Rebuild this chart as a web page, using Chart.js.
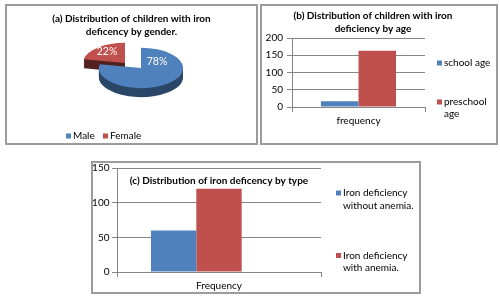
<!DOCTYPE html>
<html>
<head>
<meta charset="utf-8">
<script src="https://cdn.jsdelivr.net/npm/chart.js@4.4.1/dist/chart.umd.min.js"></script>
<style>
  body { margin: 0; width: 500px; height: 296px; background: #fff; position: relative; overflow: hidden; }
  .frame { position: absolute; box-sizing: border-box; border: 2px solid #9c9c9c; }
  canvas { position: absolute; }
</style>
</head>
<body>
<div class="frame" style="left:5px;top:4px;width:253px;height:141px"></div>
<div class="frame" style="left:260px;top:4px;width:238px;height:141px"></div>
<div class="frame" style="left:91px;top:161px;width:330px;height:133px"></div>
<canvas id="chartGender" width="249" height="137" style="left:7px;top:6px"></canvas>
<canvas id="chartAge" width="242" height="137" style="left:252px;top:6px"></canvas>
<canvas id="chartType" width="325" height="137" style="left:93px;top:155px"></canvas>
<script>
// ===== Data =====
const genderTitle = ['(a) Distribution of children with iron', 'deficency by gender.'];
const genderLabels = ['Male', 'Female'];
const genderShare = [78, 22];

const ageTitle = ['(b) Distribution of children with iron', 'deficiency by age'];
const ageLabels = ['frequency'];
const ageSeries = ['school age', 'preschool age'];
const schoolAge = [17];
const preschoolAge = [163];
const ageTicks = [0, 50, 100, 150, 200];

const typeTitle = '(c) Distribution of iron deficency by type';
const typeLabels = ['Frequency'];
const typeSeries = ['Iron deficiency without anemia.', 'Iron deficiency with anemia.'];
const withoutAnemia = [60];
const withAnemia = [120];
const emptySeries = [null]; // third slot of the cluster is empty in the original
const typeTicks = [0, 50, 100, 150];

const BLUE = '#4F81BD';
const RED = '#C0504D';
const GRID = '#868686';
const FONT = 'Lato, "Open Sans", sans-serif';

Chart.defaults.font.family = FONT;
Chart.defaults.color = '#000';
Chart.defaults.animation = false;
Chart.defaults.events = [];
Chart.defaults.plugins.tooltip.enabled = false;
Chart.defaults.plugins.legend.display = false;

// ===== Helpers =====
function wrap(ctx, text, maxW) {
  const lines = [];
  let cur = '';
  text.split(' ').forEach(w => {
    const t = cur ? cur + ' ' + w : w;
    if (cur && ctx.measureText(t).width > maxW) {
      lines.push(cur);
      cur = w;
    } else {
      cur = t;
    }
  });
  lines.push(cur);
  return lines;
}

// legend drawn by hand so long labels wrap like the Excel ones
const boxLegend = {
  id: 'boxLegend',
  afterDraw(chart, args, opts) {
    const ctx = chart.ctx;
    const items = chart.options.plugins.legend.labels.generateLabels(chart).filter(it => it.text);
    ctx.save();
    ctx.font = `${opts.size}px ${FONT}`;
    ctx.textBaseline = 'middle';
    items.forEach((it, i) => {
      const x = opts.x + i * (opts.dx || 0);
      const y = opts.y + i * (opts.dy || 0);
      ctx.fillStyle = it.fillStyle;
      ctx.fillRect(x, y - opts.box / 2, opts.box, opts.box);
      ctx.fillStyle = '#000';
      wrap(ctx, it.text, opts.wrap || 999).forEach((line, k) => {
        ctx.fillText(line, x + opts.box + 2, y + k * opts.lineHeight);
      });
    });
    ctx.restore();
  }
};

// flattened, extruded pie (Excel 3-D pie look)
const pie3d = {
  id: 'pie3d',
  beforeDatasetsDraw(chart, args, opts) {
    const ctx = chart.ctx;
    const arcs = chart.getDatasetMeta(0).data;
    const place = (arc, i, down) => {
      const [ex, ey] = opts.explode[i];
      ctx.translate(opts.x + ex, opts.y + ey + down);
      ctx.scale(1, opts.tilt);
      ctx.translate(-arc.x, -arc.y);
    };
    for (let d = opts.depth; d > 0; d--) {
      arcs.forEach((arc, i) => {
        ctx.save();
        place(arc, i, d);
        ctx.filter = `brightness(${opts.shade[i]})`;
        arc.draw(ctx);
        ctx.restore();
      });
    }
    arcs.forEach((arc, i) => {
      ctx.save();
      place(arc, i, 0);
      arc.draw(ctx);
      ctx.restore();
    });
    return false;
  },
  afterDraw(chart, args, opts) {
    const ctx = chart.ctx;
    const data = chart.data.datasets[0].data;
    const total = data.reduce((a, b) => a + b, 0);
    ctx.save();
    ctx.font = `${opts.size}px ${FONT}`;
    ctx.fillStyle = '#fff';
    ctx.textAlign = 'center';
    ctx.textBaseline = 'middle';
    data.forEach((v, i) => {
      ctx.fillText(Math.round(v / total * 100) + '%', opts.labels[i][0], opts.labels[i][1]);
    });
    ctx.restore();
  }
};

function yAxis(ticks, width, pad) {
  return {
    min: ticks[0],
    max: ticks[ticks.length - 1],
    ticks: { stepSize: ticks[1] - ticks[0], padding: pad, font: { size: 10 } },
    grid: { color: GRID, tickLength: 5 },
    border: { color: GRID },
    afterFit(s) { s.width = width; }
  };
}

function xAxis() {
  return {
    grid: { drawOnChartArea: false, color: GRID, tickLength: 5 },
    border: { color: GRID },
    ticks: { padding: 3, font: { size: 10 } },
    afterFit(s) { s.height = 20; }
  };
}

// ===== (a) by gender =====
new Chart(document.getElementById('chartGender'), {
  type: 'pie',
  data: {
    labels: genderLabels,
    datasets: [{ data: genderShare, backgroundColor: [BLUE, RED], borderWidth: 0 }]
  },
  options: {
    responsive: false,
    radius: 42,
    plugins: {
      title: {
        display: true, text: genderTitle,
        font: { size: 10, weight: 'bold', lineHeight: 1.3 },
        padding: { top: 6.5, bottom: 4 }
      },
      pie3d: {
        x: 134, y: 62, tilt: 0.48, depth: 9,
        explode: [[0, 0], [-16, -5]], shade: [0.55, 0.42],
        labels: [[150, 56], [100, 46]], size: 10.5
      },
      boxLegend: { x: 59, y: 130, dx: 37, box: 5, size: 10, lineHeight: 12 }
    }
  },
  plugins: [pie3d, boxLegend]
});

// ===== (b) by age =====
new Chart(document.getElementById('chartAge'), {
  type: 'bar',
  data: {
    labels: ageLabels,
    datasets: [
      { label: ageSeries[0], data: schoolAge, backgroundColor: BLUE },
      { label: ageSeries[1], data: preschoolAge, backgroundColor: RED }
    ]
  },
  options: {
    responsive: false,
    datasets: { bar: { categoryPercentage: 0.564, barPercentage: 1 } },
    layout: { padding: { bottom: 16 } },
    plugins: {
      title: {
        display: true, text: ageTitle,
        font: { size: 10, weight: 'bold', lineHeight: 1.3 },
        padding: { top: 3.5, bottom: 2.5 }
      },
      boxLegend: { x: 185, y: 57, dy: 39, box: 5, size: 10, lineHeight: 11.5, wrap: 50 }
    },
    scales: {
      x: xAxis(),
      y: yAxis(ageTicks, 40, 4),
      // empty right-hand box: keeps room for the legend so the title centres on the whole chart
      y2: {
        position: 'right',
        grid: { display: false }, border: { display: false }, ticks: { display: false },
        afterFit(s) { s.width = 69; }
      }
    }
  },
  plugins: [boxLegend]
});

// ===== (c) by type =====
new Chart(document.getElementById('chartType'), {
  type: 'bar',
  data: {
    labels: typeLabels,
    datasets: [
      { label: typeSeries[0], data: withoutAnemia, backgroundColor: BLUE },
      { label: typeSeries[1], data: withAnemia, backgroundColor: RED },
      { label: '', data: emptySeries }
    ]
  },
  options: {
    responsive: false,
    datasets: { bar: { categoryPercentage: 0.667, barPercentage: 1 } },
    layout: { padding: { right: 97 } },
    plugins: {
      title: {
        display: true, text: typeTitle, fullSize: false,
        font: { size: 10, weight: 'bold', lineHeight: 1.2 },
        padding: { top: 20, bottom: -19 }
      },
      boxLegend: { x: 243, y: 38, dy: 62.5, box: 5, size: 10, lineHeight: 12.5, wrap: 72 }
    },
    scales: {
      x: xAxis(),
      y: yAxis(typeTicks, 24, 2.5)
    }
  },
  plugins: [boxLegend]
});
</script>
</body>
</html>
